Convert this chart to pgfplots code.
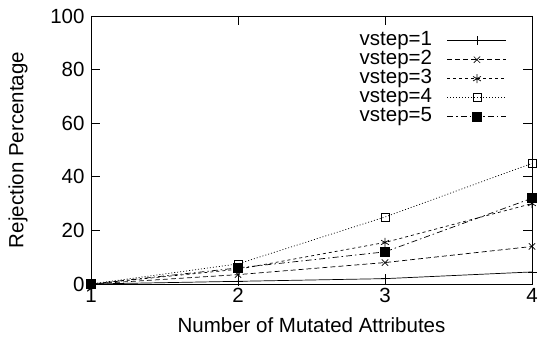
\documentclass[border=0pt]{standalone}
\usepackage{fontspec}
\setmainfont{Liberation Sans}
\usepackage{pgfplots}
\pgfplotsset{compat=1.18}
\newcommand{\bigf}{\fontsize{20.5pt}{24pt}\selectfont}
\begin{document}
\begin{tikzpicture}
\begin{axis}[name=ax,
  scale only axis, width=441pt, height=268pt,
  xmin=1, xmax=4, ymin=0, ymax=100,
  xtick={1,2,3,4}, ytick={0,20,40,60,80,100},
  tick align=inside, major tick length=9pt,
  axis line style={line width=0.9pt}, every tick/.style={line width=0.9pt, black},
  /pgf/number format/assume math mode=true,
  tick label style={font=\bigf},
  yticklabel style={xshift=-3pt},
  xticklabel style={yshift=-1pt},
  xlabel={Number of Mutated Attributes},
  ylabel={Rejection Percentage},
  every axis x label/.style={at={(axis description cs:0.5,-0.153)}, anchor=center, font=\bigf},
  every axis y label/.style={at={(axis description cs:-0.1655,0.5)}, anchor=center, rotate=90, font=\bigf},
  legend style={draw=none, fill=none, at={(1,1)}, anchor=north east, xshift=-22pt, yshift=-13pt,
    font=\bigf, column sep=15pt, row sep=0pt,
    nodes={inner sep=0pt, text height=14pt, text depth=5pt}},
  legend cell align=right,
  legend plot pos=right,
  legend image code/.code={\draw[#1, mark indices={2}] plot coordinates {(0pt,0pt) (29.5pt,0pt) (59pt,0pt)};},
  every axis plot/.append style={line width=0.7pt, black, mark size=4.5pt},
]
\addplot[solid, mark=+, mark options={solid}] coordinates {(1,0) (2,1) (3,2) (4,4.5)};
\addlegendentry{\bigf vstep=1}
\addplot[dash pattern=on 5pt off 3pt, mark=x, mark options={solid}] coordinates {(1,0) (2,3.5) (3,8) (4,14)};
\addlegendentry{\bigf vstep=2}
\addplot[dash pattern=on 3pt off 3pt, mark=asterisk, mark options={solid}] coordinates {(1,0) (2,5.5) (3,15.5) (4,30)};
\addlegendentry{\bigf vstep=3}
\addplot[dash pattern=on 1pt off 2pt, mark=square, mark options={solid, mark size=4pt}] coordinates {(1,0) (2,7.5) (3,25) (4,45)};
\addlegendentry{\bigf vstep=4}
\addplot[dash pattern=on 6pt off 3pt on 1.5pt off 3pt, mark=square*, mark options={solid, fill=black, mark size=4.5pt}] coordinates {(1,0) (2,6) (3,12) (4,32)};
\addlegendentry{\bigf vstep=5}
\end{axis}
\pgfresetboundingbox
\path ([shift={(-91pt,-61pt)}]ax.south west) rectangle ([shift={(7pt,16pt)}]ax.north east);
\end{tikzpicture}
\end{document}
